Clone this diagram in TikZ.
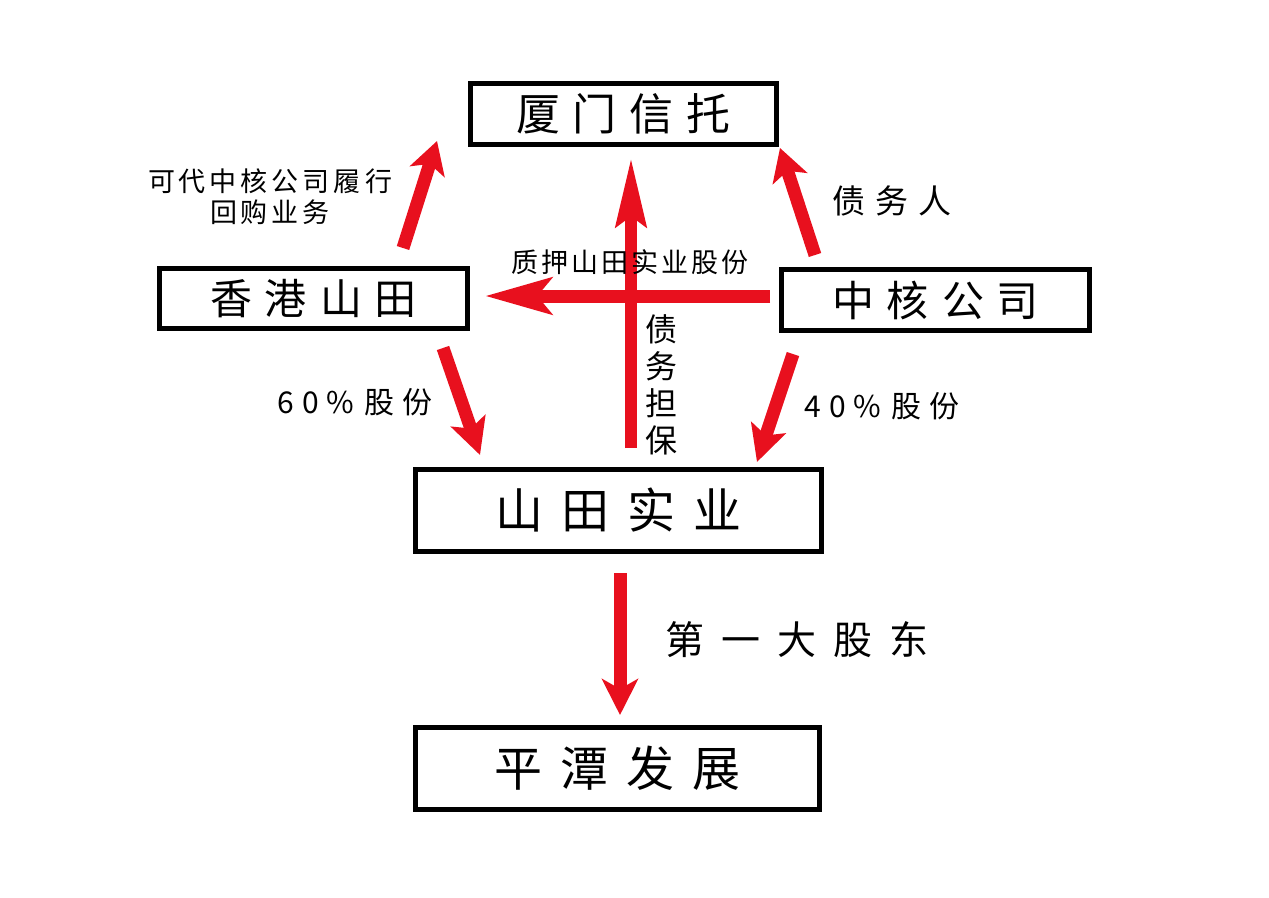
\documentclass[tikz,border=0pt]{standalone}
\usepackage{fontspec}
\setmainfont{Noto Sans CJK SC}
\usetikzlibrary{arrows.meta}
\definecolor{arr}{RGB}{232,16,30}
\tikzset{
  box/.style={draw=black, line width=5pt, fill=white, inner sep=0pt},
  rarrow/.style={draw=arr, line width=13pt, -{Stealth[length=#1, width=36pt, inset=8pt]}},
  lbl/.style={inner sep=0pt, text=black}
}
\begin{document}
\begin{tikzpicture}[x=1pt,y=-1pt]
\useasboundingbox[fill=white] (0,0) rectangle (1269,897);
% boxes
\node[box, minimum width=306pt, minimum height=61pt, font=\fontsize{44pt}{50pt}\selectfont] (xm) at (623.5,114) {厦\hspace{13pt}门\hspace{13pt}信\hspace{13pt}托};
\node[box, minimum width=308pt, minimum height=60pt, font=\fontsize{42pt}{48pt}\selectfont] (xg) at (313.5,298.5) {香\hspace{13pt}港\hspace{13pt}山\hspace{13pt}田};
\node[box, minimum width=308pt, minimum height=61pt, font=\fontsize{42pt}{48pt}\selectfont] (zh) at (935.5,300) {中\hspace{13pt}核\hspace{13pt}公\hspace{13pt}司};
\node[box, minimum width=406pt, minimum height=82pt, font=\fontsize{48pt}{54pt}\selectfont] (sy) at (618.5,510.5) {山\hspace{18pt}田\hspace{18pt}实\hspace{18pt}业};
\node[box, minimum width=404pt, minimum height=82pt, font=\fontsize{48pt}{54pt}\selectfont] (pt) at (617.5,768.5) {平\hspace{18pt}潭\hspace{18pt}发\hspace{18pt}展};
% arrow end points
\coordinate (a1s) at (403,248); \coordinate (a1e) at (437,141);
\coordinate (a2s) at (815,255); \coordinate (a2e) at (780,148);
\coordinate (a3s) at (631,448); \coordinate (a3e) at (631,158);
\coordinate (a4s) at (770,296); \coordinate (a4e) at (485,296);
\coordinate (a5s) at (443,348); \coordinate (a5e) at (480,455);
\coordinate (a6s) at (793,354); \coordinate (a6e) at (757,462);
\coordinate (a7s) at (620,573); \coordinate (a7e) at (620,715);
% arrows
\draw[rarrow=32pt] (a1s) -- (a1e);
\draw[rarrow=32pt] (a2s) -- (a2e);
\draw[rarrow=36pt] (a5s) -- (a5e);
\draw[rarrow=36pt] (a6s) -- (a6e);
\draw[rarrow=66pt, -{Stealth[length=66pt, width=36pt, inset=14pt]}] (a4s) -- (a4e);
\draw[draw=arr, line width=12pt, -{Stealth[length=68pt, width=30pt, inset=10pt]}] (a3s) -- (a3e);
\draw[rarrow=36pt, -{Stealth[length=36pt, width=36pt, inset=10pt]}] (a7s) -- (a7e);
% labels
\node[lbl, font=\fontsize{27pt}{31pt}\selectfont, align=center] (l1) at (270,197) {可\hspace{4pt}代\hspace{4pt}中\hspace{4pt}核\hspace{4pt}公\hspace{4pt}司\hspace{4pt}履\hspace{4pt}行\\回\hspace{4pt}购\hspace{4pt}业\hspace{4pt}务};
\node[lbl, font=\fontsize{33pt}{38pt}\selectfont] (l2) at (892,201) {债\hspace{10pt}务\hspace{10pt}人};
\node[lbl, font=\fontsize{27pt}{31pt}\selectfont] (l3) at (630,262) {质\hspace{3pt}押\hspace{3pt}山\hspace{3pt}田\hspace{3pt}实\hspace{3pt}业\hspace{3pt}股\hspace{3pt}份};
\node[lbl, font=\fontsize{32pt}{37pt}\selectfont, align=center] (l4) at (661,385) {债\\务\\担\\保};
\node[lbl, font=\fontsize{30pt}{34pt}\selectfont] (l5) at (355,402) {6\hspace{8pt}0\hspace{8pt}\%\hspace{10pt}股\hspace{8pt}份};
\node[lbl, font=\fontsize{30pt}{34pt}\selectfont] (l6) at (882,406) {4\hspace{8pt}0\hspace{8pt}\%\hspace{10pt}股\hspace{8pt}份};
\node[lbl, font=\fontsize{39pt}{44pt}\selectfont] (l7) at (797,640) {第\hspace{17pt}一\hspace{17pt}大\hspace{17pt}股\hspace{17pt}东};
\end{tikzpicture}
\end{document}
